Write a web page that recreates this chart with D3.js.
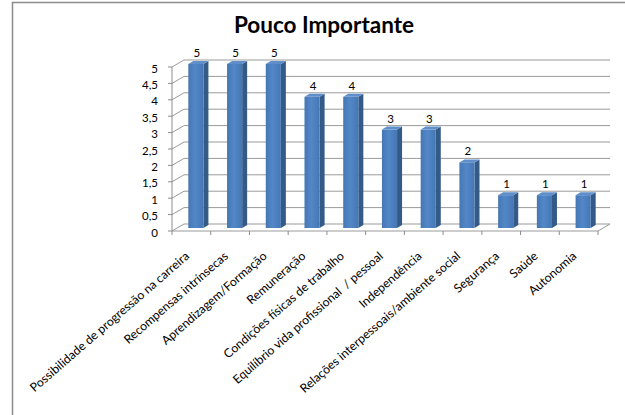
<!DOCTYPE html>
<html>
<head>
<meta charset="utf-8">
<script src="https://cdn.jsdelivr.net/npm/d3@7"></script>
<style>
  html, body { margin: 0; padding: 0; background: #fff; }
  svg { display: block; }
  text { font-family: Lato, "Open Sans", sans-serif; }
</style>
</head>
<body>
<svg id="chart" width="625" height="415"></svg>
<script>
const title = "Pouco Importante";
const categories = [
  "Possibilidade de progressão na carreira",
  "Recompensas intrínsecas",
  "Aprendizagem/Formação",
  "Remuneração",
  "Condições físicas de trabalho",
  "Equilíbrio vida profissional  / pessoal",
  "Independência",
  "Relações interpessoais/ambiente social",
  "Segurança",
  "Saúde",
  "Autonomia"
];
const values = [5, 5, 5, 4, 4, 3, 3, 2, 1, 1, 1];
const yTicks = [0, 0.5, 1, 1.5, 2, 2.5, 3, 3.5, 4, 4.5, 5];
const yTickLabels = ["0", "0,5", "1", "1,5", "2", "2,5", "3", "3,5", "4", "4,5", "5"];

const svg = d3.select("#chart");

// layout
const plotLeft = 172, plotRight = 598, plotBottom = 231, plotTop = 67;
const depth = { dx: 12, dy: -7 };        // wall depth
const barOff = { dx: 4.5, dy: -3 };       // bar front plane offset
const barDepth = { dx: 5, dy: -3 };       // bar thickness

const x = d3.scaleBand().domain(categories).range([plotLeft, plotRight]).padding(0);
const y = d3.scaleLinear().domain([0, 5]).range([plotBottom, plotTop]);
const barW = x.bandwidth() * 0.39;

// outer frame (top and left edges visible)
svg.append("path")
  .attr("d", "M12.5,415 L12.5,2.5 L625,2.5")
  .attr("fill", "none").attr("stroke", "#8c8c8c").attr("stroke-width", 1.5);

// title
svg.append("text")
  .attr("x", 324).attr("y", 33)
  .attr("text-anchor", "middle")
  .attr("font-size", 22.5).attr("font-weight", "bold")
  .attr("fill", "#000")
  .text(title);

// gridlines: side-wall diagonals + back-wall horizontals
const grid = svg.append("g").attr("stroke", "#9a9a9a").attr("fill", "none").attr("stroke-width", 1);
yTicks.forEach(t => {
  const yy = y(t);
  grid.append("line")
    .attr("x1", plotLeft).attr("y1", yy)
    .attr("x2", plotLeft + depth.dx).attr("y2", yy + depth.dy);
  grid.append("line")
    .attr("x1", plotLeft + depth.dx).attr("y1", yy + depth.dy)
    .attr("x2", plotRight + depth.dx).attr("y2", yy + depth.dy);
});

// floor front edge and right edge
grid.append("path")
  .attr("d", `M${plotLeft},${plotBottom} L${plotRight},${plotBottom} L${plotRight + depth.dx},${plotBottom + depth.dy}`);

// y axis line and ticks
const yAxis = svg.append("g").attr("stroke", "#8c8c8c").attr("stroke-width", 1);
yAxis.append("line").attr("x1", plotLeft).attr("y1", y(5)).attr("x2", plotLeft).attr("y2", plotBottom);
yTicks.forEach(t => {
  yAxis.append("line").attr("x1", plotLeft - 4).attr("y1", y(t)).attr("x2", plotLeft).attr("y2", y(t));
});
svg.append("g").selectAll("text").data(yTicks).join("text")
  .attr("x", 158).attr("y", d => y(d) + 1.5)
  .attr("dy", "0.35em")
  .attr("text-anchor", "end")
  .attr("font-size", 11.5).attr("fill", "#000")
  .text((d, i) => yTickLabels[i]);

// x ticks
const xt = svg.append("g").attr("stroke", "#8c8c8c").attr("stroke-width", 1);
d3.range(categories.length + 1).forEach(i => {
  const xx = plotLeft + i * x.bandwidth();
  xt.append("line").attr("x1", xx).attr("y1", plotBottom).attr("x2", xx).attr("y2", plotBottom + 4);
});

// bars (3D)
const defs = svg.append("defs");
const g1 = defs.append("linearGradient").attr("id", "front").attr("x1", "0").attr("x2", "1").attr("y1", "0").attr("y2", "0");
g1.append("stop").attr("offset", "0").attr("stop-color", "#4677b4");
g1.append("stop").attr("offset", "0.45").attr("stop-color", "#5287c8");
g1.append("stop").attr("offset", "1").attr("stop-color", "#4677b4");

const bars = svg.append("g");
categories.forEach((c, i) => {
  const v = values[i];
  const x0 = x(c) + (x.bandwidth() - barW) / 2 + barOff.dx;
  const x1 = x0 + barW;
  const yb = y(0) + barOff.dy;
  const yt = y(v) + barOff.dy;
  bars.append("path")
    .attr("d", `M${x1},${yb} L${x1 + barDepth.dx},${yb + barDepth.dy} L${x1 + barDepth.dx},${yt + barDepth.dy} L${x1},${yt} Z`)
    .attr("fill", "#345a88");
  bars.append("path")
    .attr("d", `M${x0},${yt} L${x0 + barDepth.dx},${yt + barDepth.dy} L${x1 + barDepth.dx},${yt + barDepth.dy} L${x1},${yt} Z`)
    .attr("fill", "#5f8fcb");
  bars.append("rect")
    .attr("x", x0).attr("y", yt).attr("width", barW).attr("height", yb - yt)
    .attr("fill", "url(#front)");
  bars.append("text")
    .attr("x", x0 + barW / 2 + 1).attr("y", yt - 7)
    .attr("text-anchor", "middle")
    .attr("font-size", 11.5).attr("fill", "#000")
    .text(v);
});

// x labels rotated
svg.append("g").selectAll("text").data(categories).join("text")
  .attr("transform", d => `translate(${x(d) + x.bandwidth() / 2 - 4},${plotBottom + 23}) rotate(-41)`)
  .attr("text-anchor", "end")
  .attr("dy", "0.35em")
  .attr("font-size", 12.2).attr("fill", "#000")
  .style("white-space", "pre")
  .text(d => d);
</script>
</body>
</html>
